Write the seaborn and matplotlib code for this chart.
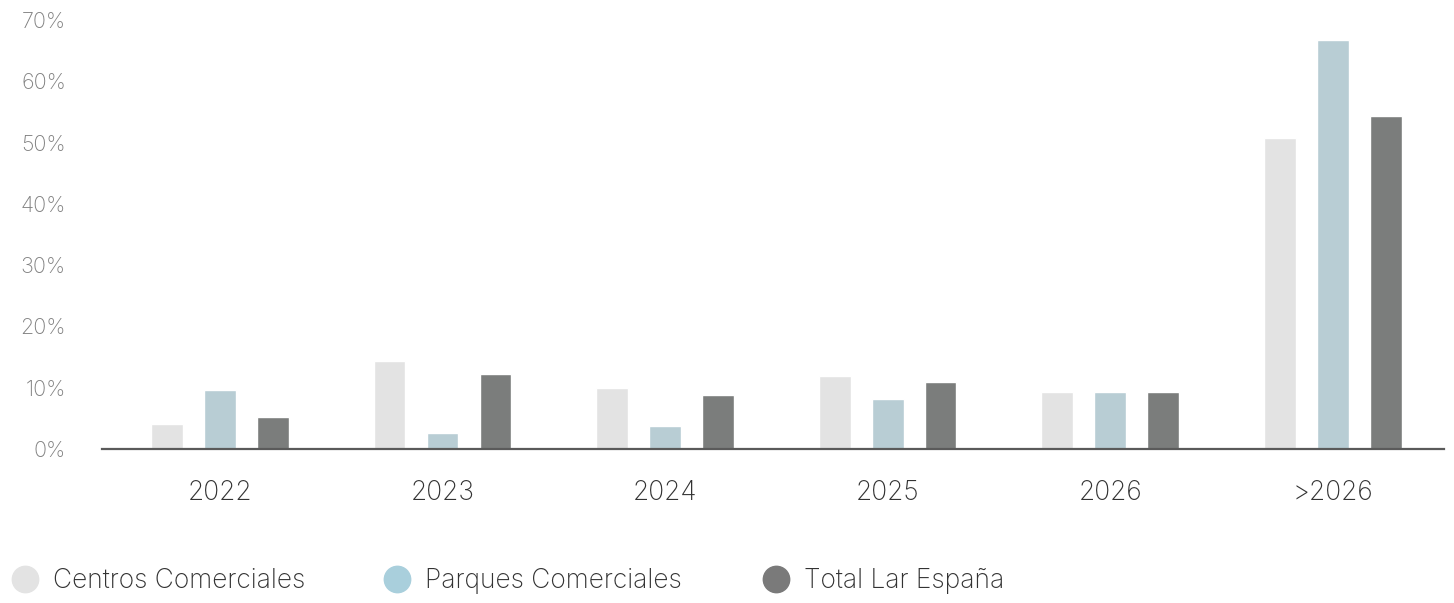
import matplotlib
matplotlib.use("Agg")
import matplotlib.pyplot as plt
from matplotlib.lines import Line2D
import seaborn as sns
import pandas as pd

years = ["2022", "2023", "2024", "2025", "2026", ">2026"]
centros = [4.1, 14.4, 10.0, 11.9, 9.3, 50.7]
parques = [9.6, 2.6, 3.8, 8.2, 9.3, 66.7]
total = [5.2, 12.2, 8.8, 10.9, 9.3, 54.3]
series = ["Centros Comerciales", "Parques Comerciales", "Total Lar España"]
bar_colors = ["#e3e3e3", "#b8cdd4", "#7b7d7c"]
legend_colors = ["#e3e3e3", "#a9cfdc", "#7a7a7a"]
yticks = [0, 10, 20, 30, 40, 50, 60, 70]

df = pd.DataFrame({
    "year": years * 3,
    "serie": [series[0]] * 6 + [series[1]] * 6 + [series[2]] * 6,
    "value": centros + parques + total,
})

sns.set_style("white")
plt.rcParams["font.family"] = ["Inter", "DejaVu Sans"]
plt.rcParams["font.weight"] = "light"

W, H = 1454, 603
fig = plt.figure(figsize=(W / 100, H / 100), dpi=100)
ax = fig.add_axes([102 / W, (H - 449) / H, (1444 - 102) / W, (449 - 20) / H])

sns.barplot(data=df, x="year", y="value", hue="serie", order=years,
            hue_order=series, palette=bar_colors, width=0.714, gap=0.40,
            legend=False, ax=ax, saturation=1)

ax.set_ylim(0, 70)
ax.set_xlim(-0.53, 5.5)
ax.set_yticks(yticks)
ax.set_yticklabels([f"{v}%" for v in yticks], color="#808080", fontsize=15.5)
ax.tick_params(axis="y", length=0, pad=26)
ax.tick_params(axis="x", length=0, pad=22, labelsize=19, labelcolor="#333333")
ax.set_xlabel("")
ax.set_ylabel("")
for s in ["top", "left", "right"]:
    ax.spines[s].set_visible(False)
ax.spines["bottom"].set_color("#5a5a5a")
ax.spines["bottom"].set_linewidth(1.6)

# one legend entry per series, each anchored at its own position
legend_x = [6.5, 378.5, 757.5]
for label, color, x0 in zip(series, legend_colors, legend_x):
    h = Line2D([], [], marker="o", linestyle="", markersize=19,
               markerfacecolor=color, markeredgecolor=color)
    leg = fig.legend([h], [label], loc="center left",
                     bbox_to_anchor=(x0 / W, 1 - 581 / H),
                     frameon=False, fontsize=19, labelcolor="#333333",
                     handletextpad=0.36, handlelength=1.4,
                     borderaxespad=0, borderpad=0)

fig.savefig("out.png", dpi=100)
